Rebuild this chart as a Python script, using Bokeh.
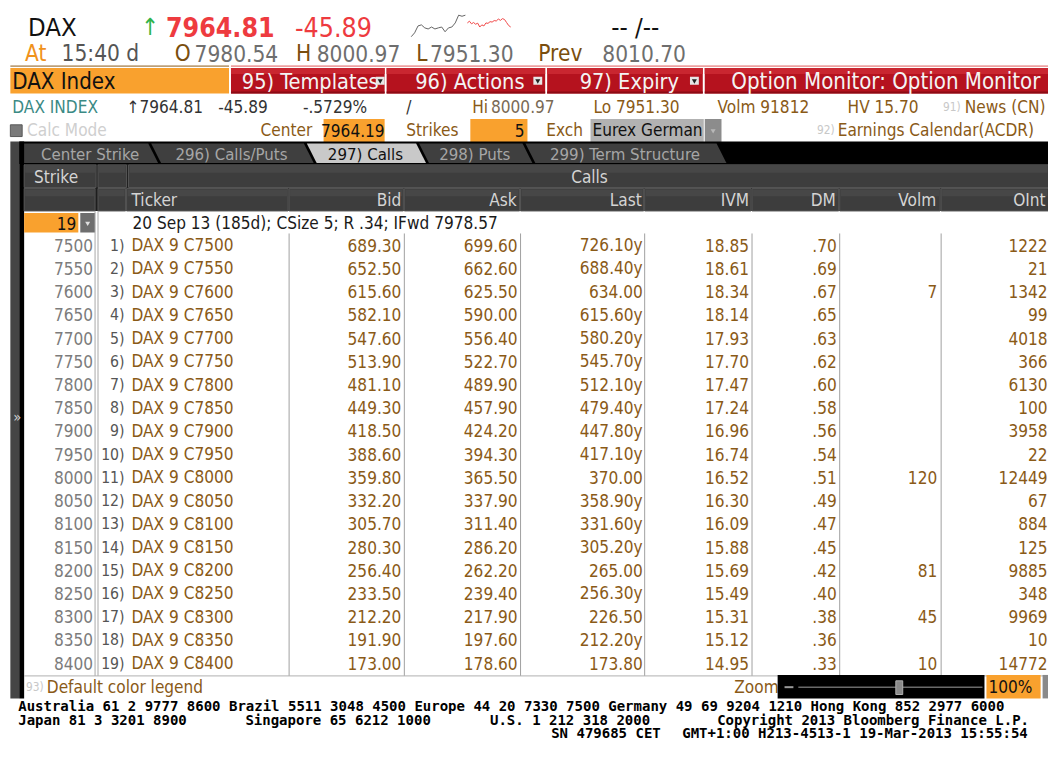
import numpy as np
from bokeh.plotting import figure
from bokeh.models import Range1d, ColumnDataSource
from bokeh.core.properties import value
from bokeh.embed import file_html
from bokeh.resources import INLINE

# ---------------- data ----------------
strikes = [7500, 7550, 7600, 7650, 7700, 7750, 7800, 7850, 7900, 7950,
           8000, 8050, 8100, 8150, 8200, 8250, 8300, 8350, 8400]
bid = [689.30, 652.50, 615.60, 582.10, 547.60, 513.90, 481.10, 449.30, 418.50, 388.60,
       359.80, 332.20, 305.70, 280.30, 256.40, 233.50, 212.20, 191.90, 173.00]
ask = [699.60, 662.60, 625.50, 590.00, 556.40, 522.70, 489.90, 457.90, 424.20, 394.30,
       365.50, 337.90, 311.40, 286.20, 262.20, 239.40, 217.90, 197.60, 178.60]
last = ["726.10y", "688.40y", "634.00", "615.60y", "580.20y", "545.70y", "512.10y", "479.40y",
        "447.80y", "417.10y", "370.00", "358.90y", "331.60y", "305.20y", "265.00", "256.30y",
        "226.50", "212.20y", "173.80"]
ivm = [18.85, 18.61, 18.34, 18.14, 17.93, 17.70, 17.47, 17.24, 16.96, 16.74,
       16.52, 16.30, 16.09, 15.88, 15.69, 15.49, 15.31, 15.12, 14.95]
dm = [".70", ".69", ".67", ".65", ".63", ".62", ".60", ".58", ".56", ".54",
      ".51", ".49", ".47", ".45", ".42", ".40", ".38", ".36", ".33"]
volm = ["", "", "7", "", "", "", "", "", "", "", "120", "", "", "", "81", "", "45", "", "10"]
oint = [1222, 21, 1342, 99, 4018, 366, 6130, 100, 3958, 22,
        12449, 67, 884, 125, 9885, 348, 9969, 10, 14772]
header_cols = ["Bid", "Ask", "Last", "IVM", "DM", "Volm", "OInt"]
tabs = ["Center Strike", "296) Calls/Puts", "297) Calls", "298) Puts", "299) Term Structure"]
# sparkline levels (0 = low, 100 = high)
spark_gray = [0, 18, 50, 55, 41, 36, 45, 36, 41, 45, 23, 41, 45, 64, 100, 95, 100]
spark_red = [64, 72, 60, 66, 58, 63, 45, 55, 50, 64, 62, 70, 68, 75, 73, 82, 76, 84, 80, 66, 52, 45]
footer1 = [(0, "Australia 61 2 9777 8600 Brazil 5511 3048 4500 Europe 44 20 7330 7500 Germany 49 69 9204 1210 Hong Kong 852 2977 6000")]
footer2 = [(0, "Japan 81 3 3201 8900"), (26, "Singapore 65 6212 1000"), (54, "U.S. 1 212 318 2000"),
           (80, "Copyright 2013 Bloomberg Finance L.P.")]
footer3 = [(61, "SN 479685 CET"), (76, "GMT+1:00 H213-4513-1 19-Mar-2013 15:55:54")]

# ---------------- figure ----------------
W, H = 1064, 757
p = figure(width=1048, height=741, x_range=Range1d(0, W), y_range=Range1d(H, 0),
           output_backend="svg", toolbar_location=None, min_border=0,
           x_axis_location=None, y_axis_location=None)
p.grid.visible = False
p.outline_line_color = None
p.background_fill_color = "white"
p.border_fill_color = "white"

F = "DejaVu Sans Condensed"
MONO = "DejaVu Sans Mono"
FS = 0.98

ORANGE = "#f9a12e"
BROWN = "#8a5a17"
GTXT = "#7c7c7c"
HDR = "#3d3d3d"
HTXT = "#d4d4d4"


def txt(x, y, s, size, color, align="left", bold=False, font=F):
    p.text(x=[x], y=[y], text=[s], text_font=value(font), text_font_size=f"{size*FS:.1f}px",
           text_color=color, text_align=align, text_baseline="middle",
           text_font_style="bold" if bold else "normal")


def box(l, r, t, b, color, line=None, lw=1):
    p.quad(left=[l], right=[r], top=[t], bottom=[b], fill_color=color,
           line_color=line, line_width=lw)


def seg(x0, y0, x1, y1, color, lw=1):
    p.segment(x0=[x0], y0=[y0], x1=[x1], y1=[y1], line_color=color, line_width=lw)


# ---------------- row 1 ----------------
txt(28, 27, "DAX", 26, "#111111")
txt(143, 27, "\u2191", 24, "#2fb34a")
txt(168, 27, "7964.81", 27, "#ee3b3f", bold=True)
txt(299, 27, "-45.89", 27, "#ee3b3f")
sx_g = np.linspace(417, 472, len(spark_gray))
sx_r = np.linspace(474, 518, len(spark_red))
p.line(sx_g, [37 - v * 0.22 for v in spark_gray], line_color="#666666", line_width=1)
p.line(sx_r, [37 - v * 0.22 for v in spark_red], line_color="#f04848", line_width=1)
txt(620, 27, "-- /--", 26, "#111111")

# ---------------- row 2 ----------------
y2 = 54
txt(25, y2, "At", 23, "#f0921c")
txt(62, y2, "15:40 d", 23, "#555555")
txt(177, y2, "O", 23, "#7a4e0e")
txt(197, y2, "7980.54", 23, "#6e6e6e")
txt(300, y2, "H", 23, "#7a4e0e")
txt(321, y2, "8000.97", 23, "#6e6e6e")
txt(422, y2, "L", 23, "#7a4e0e")
txt(436, y2, "7951.30", 23, "#6e6e6e")
txt(546, y2, "Prev", 23, "#7a4e0e")
txt(611, y2, "8010.70", 23, "#6e6e6e")

# ---------------- row 3 : menu bar ----------------
seg(10, 67, 232, 67, "#8a5a17", 1)
seg(234, 67, 1064, 67, "#e05a5a", 1)
box(10, 232, 69, 95, ORANGE)
txt(12, 82.5, "DAX Index", 22.5, "#111111")
red_secs = [(234, 390), (392, 553), (555, 713), (715, 1064)]
for l, r in red_secs:
    box(l, r, 69, 95, "#b5121e")
    box(l, r, 69, 75, "#c92630")
    box(l, r, 93, 95, "#8c0a14")
txt(245, 82.5, "95) Templates", 22, "#f4f4f4")
txt(421, 82.5, "96) Actions", 22, "#f4f4f4")
txt(588, 82.5, "97) Expiry", 22, "#f4f4f4")
txt(742, 82.5, "Option Monitor: Option Monitor", 22.5, "#f4f4f4")
for ix in [381, 541, 700]:
    box(ix, ix + 9, 78, 86, "#e6e6e6")
    p.scatter(x=[ix + 4.5], y=[82], marker="inverted_triangle", size=5, fill_color="#222222", line_color=None)

# ---------------- row 4 ----------------
y4 = 108.5
S4 = 17.5
txt(12, y4, "DAX INDEX", S4, "#3b8a85")
txt(128, y4, "\u21917964.81", S4, "#333333")
txt(221, y4, "-45.89", S4, "#333333")
txt(307, y4, "-.5729%", S4, "#333333")
txt(412, y4, "/", S4, "#333333")
txt(479, y4, "Hi", S4, BROWN)
txt(498, y4, "8000.97", S4, "#7a6a55")
txt(602, y4, "Lo 7951.30", S4, BROWN)
txt(728, y4, "Volm 91812", S4, BROWN)
txt(860, y4, "HV 15.70", S4, BROWN)
txt(957, y4, "91)", 12, "#c8c8c8")
txt(979, y4, "News (CN)", S4, BROWN)

# ---------------- row 5 ----------------
y5 = 132.5
box(10, 22, 127, 139, "#7a7a7a", "#5a5a5a")
txt(27, y5, "Calc Mode", S4, "#cfcfcf")
txt(264, y5, "Center", S4, BROWN)
box(328, 390, 121, 145, ORANGE)
txt(390, y5, "7964.19", S4, "#111111", align="right")
txt(412, y5, "Strikes", S4, BROWN)
box(477, 535, 121, 145, ORANGE)
txt(532, y5, "5", S4, "#111111", align="right")
txt(554, y5, "Exch", S4, BROWN)
box(599, 714, 121, 145, "#b2b2b2")
txt(601, y5, "Eurex German", S4, "#111111")
box(715, 732, 121, 145, "#8c8c8c")
p.scatter(x=[723.5], y=[133], marker="inverted_triangle", size=5, fill_color="#b8b8b8", line_color=None)
txt(829, y5, "92)", 12, "#c8c8c8")
txt(850, y5, "Earnings Calendar(ACDR)", S4, BROWN)

# ---------------- tab bar ----------------
box(19, 1064, 144, 167, "#000000")
box(10, 19, 144, 713, "#454545")
box(19, 24, 144, 713, "#000000")
tab_l = [24, 163, 321, 435, 543]
tab_r = [160, 318, 432, 540, 737]
slant = 10
for i, name in enumerate(tabs):
    L, R = tab_l[i], tab_r[i]
    Lt = L if i == 0 else L - slant
    active = (i == 2)
    p.patch([Lt, R - slant, R, L], [146, 146, 166, 166],
            fill_color="#c9c9c9" if active else "#3f3f3f", line_color=None)
    txt((Lt + R) / 2 - 1, 156.5, name, 17, "#111111" if active else "#a6a6a6", align="center")
txt(13, 425, "\u00bb", 15, "#d0d0d0")

# ---------------- header rows ----------------
box(24, 1064, 167, 215, "#1e1e1e")
cells1 = [(24, 97), (99, 128), (130, 1064)]
for l, r in cells1:
    box(l, r, 168, 191, HDR, "#555555")
    box(l + 1, r - 1, 169, 176, "#474747")
txt(34, 180, "Strike", 17.5, HTXT)
txt(598, 180, "Calls", 17.5, HTXT, align="center")
col_edges = [128, 293, 410, 528, 654, 763, 852, 955, 1064]
cells2 = [(24, 97), (99, 128)] + [(col_edges[i], col_edges[i + 1]) for i in range(len(col_edges) - 1)]
for l, r in cells2:
    rr = r + (0 if r == 1064 else -1)
    box(l, rr, 192, 215, HDR, "#555555")
    box(l + 1, rr - 1, 193, 200, "#474747")
txt(133, 203.5, "Ticker", 17.5, HTXT)
hdr_right = [407, 524, 651, 760, 848, 950, 1061]
p.text(x=hdr_right, y=[203.5] * len(header_cols), text=header_cols, text_font=value(F),
       text_font_size=f"{17.5*FS:.1f}px", text_color=HTXT, text_align="right", text_baseline="middle")

# ---------------- expiry row ----------------
box(24, 79, 217, 237, ORANGE)
txt(77, 227.5, "19", 17.5, "#111111", align="right")
box(81, 96, 217, 237, "#6e6e6e")
p.scatter(x=[88.5], y=[227.5], marker="inverted_triangle", size=5, fill_color="#e0e0e0", line_color=None)
txt(134, 227.5, "20 Sep 13 (185d); CSize 5; R .34; IFwd 7978.57", 17.5, "#1a1a1a")

# ---------------- table ----------------
ROW0, STEP = 250, 23.72
n = len(strikes)
ys = [ROW0 + i * STEP for i in range(n)]
src = ColumnDataSource(dict(
    y=ys,
    strike=[str(s) for s in strikes],
    idx=[f"{i+1})" for i in range(n)],
    ticker=[f"DAX 9 C{s}" for s in strikes],
    bid=[f"{v:.2f}" for v in bid],
    ask=[f"{v:.2f}" for v in ask],
    last=last,
    ivm=[f"{v:.2f}" for v in ivm],
    dm=dm,
    volm=volm,
    oint=[str(v) for v in oint],
))
# separators
for x in [96, 99]:
    seg(x, 215, x, 690, "#a8a8a8")
for x in col_edges[1:-1]:
    seg(x, 238, x, 690, "#a0a0a0")
seg(24, 690, 1064, 690, "#b0b0b0")


def col(field, x, color, align="right", size=17.5):
    p.text(x=x, y="y", text=field, source=src, text_font=value(F), text_font_size=f"{size*FS:.1f}px",
           text_color=color, text_align=align, text_baseline="middle")


col("strike", 94, GTXT)
col("idx", 126, "#555555", size=16)
col("ticker", 133, BROWN, align="left")
col("bid", 407, BROWN)
col("ask", 525, BROWN)
col("last", 652, BROWN)
col("ivm", 760, BROWN)
col("dm", 849, BROWN)
col("volm", 951, BROWN)
col("oint", 1063, BROWN)

# ---------------- bottom bar ----------------
yb = 701.5
txt(26, yb, "93)", 12, "#c8c8c8")
txt(47, yb, "Default color legend", 17.5, BROWN)
txt(745, yb, "Zoom", 17.5, BROWN)
box(789, 999, 689, 713, "#000000")
seg(796, 701.5, 805, 701.5, "#9a9a9a", 2)
seg(810, 701.5, 997, 701.5, "#6a6a6a", 1.5)
box(909, 916, 695, 709, "#8a8a8a", "#b0b0b0")
box(1001, 1056, 689, 713, ORANGE)
txt(1003, yb, "100%", 17.5, "#111111")
box(1058, 1064, 689, 713, "#8a8a8a")

# ---------------- footer ----------------
CW = 8.87
for lines, yy in [(footer1, 721.0), (footer2, 735.0), (footer3, 748.5)]:
    for c, s in lines:
        txt(18 + c * CW, yy, s, 14.3, "#000000", bold=True, font=MONO)

open("out.html", "w").write(file_html(p, INLINE))
